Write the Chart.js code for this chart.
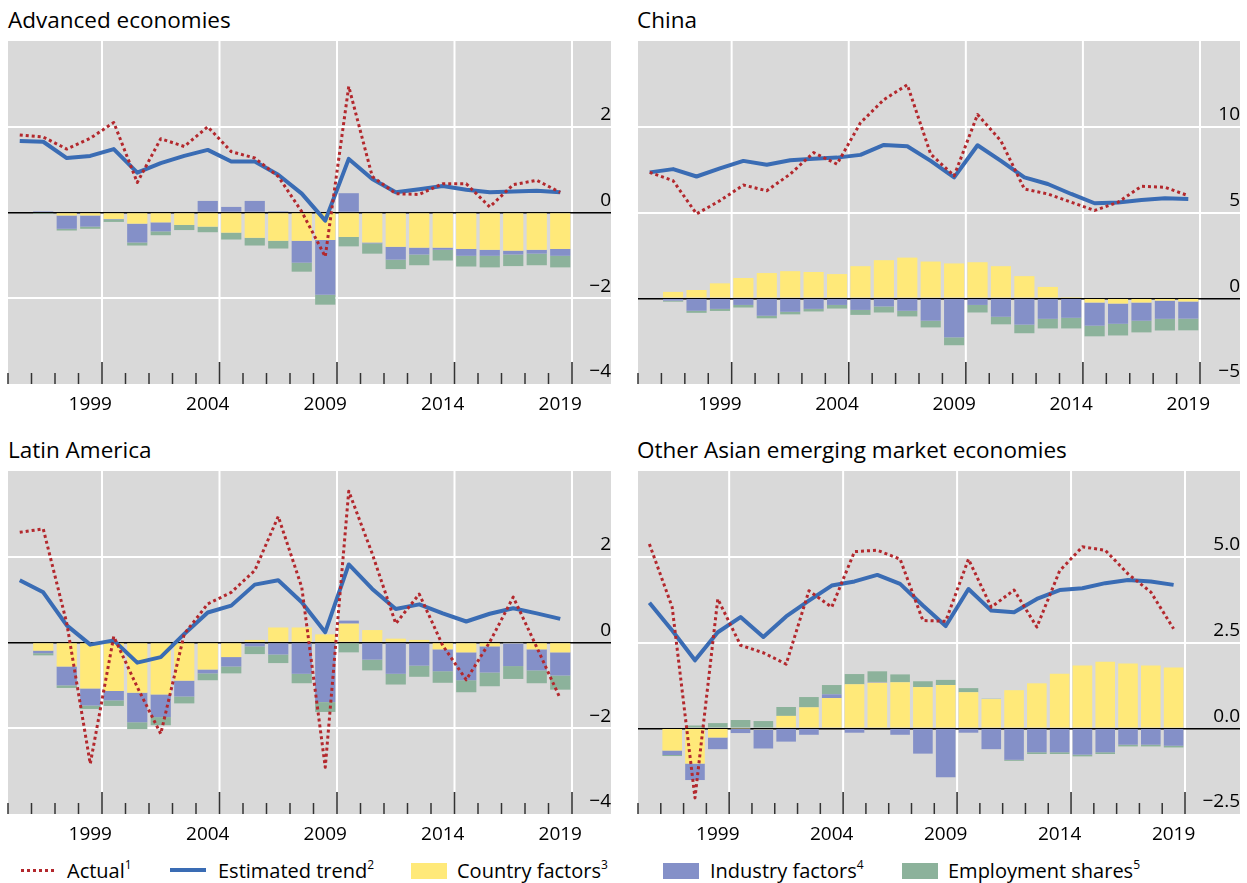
<!DOCTYPE html>
<html>
<head>
<meta charset="utf-8">
<script src="https://cdn.jsdelivr.net/npm/chart.js@4.4.1/dist/chart.umd.min.js"></script>
<style>
    body { margin: 0; background: #fff; width: 1247px; height: 883px; position: relative; overflow: hidden;
           font-family: "Open Sans", sans-serif; color: #000; }
    canvas { position: absolute; }
    .title { position: absolute; font-size: 22.5px; white-space: nowrap; }
    .legend-item { position: absolute; font-size: 20px; white-space: nowrap; top: 857px; }
    .legend-item sup { font-size: 12px; vertical-align: 9px; line-height: 0; }
    .swatch { position: absolute; }
</style>
</head>
<body>
<div class="title" style="left:8px; top:4px;">Advanced economies</div>
<div class="title" style="left:637px; top:4px;">China</div>
<div class="title" style="left:8px; top:434px;">Latin America</div>
<div class="title" style="left:637px; top:434px;">Other Asian emerging market economies</div>

<canvas id="adv" width="604" height="377" style="left:7px; top:41px;"></canvas>
<canvas id="chn" width="603" height="377" style="left:637px; top:41px;"></canvas>
<canvas id="lat" width="604" height="377" style="left:7px; top:471px;"></canvas>
<canvas id="asia" width="603" height="377" style="left:637px; top:471px;"></canvas>

<!-- legend -->
<div class="swatch" style="left:21px; top:869px; width:35px; height:3px; background:repeating-linear-gradient(to right,#b3282d 0 3px,transparent 3px 6px);"></div>
<div class="legend-item" style="left:67px;">Actual<sup>1</sup></div>
<div class="swatch" style="left:170px; top:868px; width:36px; height:4px; background:#3a6cb4;"></div>
<div class="legend-item" style="left:218px;">Estimated trend<sup>2</sup></div>
<div class="swatch" style="left:411px; top:863px; width:36px; height:16px; background:#ffe979;"></div>
<div class="legend-item" style="left:457px;">Country factors<sup>3</sup></div>
<div class="swatch" style="left:663px; top:863px; width:36px; height:16px; background:#8490c8;"></div>
<div class="legend-item" style="left:710px;">Industry factors<sup>4</sup></div>
<div class="swatch" style="left:902px; top:863px; width:36px; height:16px; background:#8cb29b;"></div>
<div class="legend-item" style="left:948px;">Employment shares<sup>5</sup></div>

<script>
// Categories
const years = ["1996", "1997", "1998", "1999", "2000", "2001", "2002", "2003", "2004", "2005", "2006", "2007",
               "2008", "2009", "2010", "2011", "2012", "2013", "2014", "2015", "2016", "2017", "2018", "2019"];

// Advanced economies
const advActual = [1.81, 1.76, 1.48, 1.73, 2.10, 0.70, 1.72, 1.54, 2.00, 1.42, 1.27, 0.84, 0.02, -1.03, 2.94, 0.84, 0.44, 0.42, 0.67, 0.67, 0.13, 0.65, 0.75, 0.47];
const advTrend = [1.67, 1.65, 1.27, 1.32, 1.48, 0.93, 1.15, 1.32, 1.46, 1.19, 1.19, 0.88, 0.44, -0.19, 1.25, 0.78, 0.47, 0.54, 0.62, 0.53, 0.47, 0.49, 0.51, 0.47];
const advCountry = [null, 0, -0.07, -0.07, -0.15, -0.26, -0.23, -0.29, -0.33, -0.47, -0.59, -0.66, -0.66, -0.64, -0.57, -0.70, -0.80, -0.82, -0.82, -0.85, -0.87, -0.89, -0.87, -0.85];
const advIndustry = [null, 0.03, -0.31, -0.26, -0.01, -0.44, -0.21, 0, 0.27, 0.13, 0.27, 0.03, -0.51, -1.28, 0.45, -0.02, -0.30, -0.16, -0.05, -0.16, -0.14, -0.09, -0.09, -0.16];
const advEmployment = [null, -0.03, -0.04, -0.05, -0.06, -0.07, -0.09, -0.12, -0.13, -0.16, -0.18, -0.18, -0.21, -0.23, -0.22, -0.24, -0.22, -0.25, -0.25, -0.25, -0.27, -0.27, -0.27, -0.27];

// China
const chnActual = [7.34, 6.85, 4.92, 5.69, 6.60, 6.27, 7.24, 8.49, 7.82, 10.23, 11.58, 12.45, 8.40, 7.14, 10.71, 9.17, 6.37, 6.08, 5.60, 5.12, 5.60, 6.53, 6.47, 5.98];
const chnTrend = [7.34, 7.53, 7.10, 7.57, 8.01, 7.78, 8.05, 8.13, 8.20, 8.36, 8.94, 8.86, 8.01, 7.05, 8.92, 8.01, 7.05, 6.66, 6.08, 5.54, 5.58, 5.73, 5.83, 5.79];
const chnCountry = [null, 0.37, 0.48, 0.87, 1.18, 1.47, 1.58, 1.53, 1.41, 1.87, 2.22, 2.37, 2.14, 2.03, 2.10, 1.87, 1.29, 0.66, 0.02, -0.25, -0.31, -0.25, -0.14, -0.19];
const chnIndustry = [null, -0.14, -0.73, -0.62, -0.39, -1.02, -0.79, -0.62, -0.39, -0.68, -0.48, -0.73, -1.31, -2.28, -0.39, -1.08, -1.54, -1.20, -1.14, -1.35, -1.18, -1.06, -1.06, -1.00];
const chnEmployment = [null, -0.06, -0.12, -0.12, -0.15, -0.15, -0.15, -0.15, -0.21, -0.29, -0.35, -0.33, -0.39, -0.46, -0.44, -0.44, -0.50, -0.56, -0.62, -0.62, -0.68, -0.68, -0.68, -0.68];

// Latin America
const latActual = [2.57, 2.65, 0.45, -2.83, 0.14, -1.04, -2.13, 0.20, 0.90, 1.17, 1.68, 2.94, 1.29, -2.91, 3.53, 2.07, 0.44, 1.13, -0.07, -0.87, 0.01, 1.06, -0.11, -1.31];
const latTrend = [1.45, 1.17, 0.40, -0.05, 0.05, -0.47, -0.34, 0.20, 0.70, 0.86, 1.35, 1.45, 0.94, 0.24, 1.82, 1.25, 0.78, 0.89, 0.68, 0.49, 0.67, 0.80, 0.68, 0.55];
const latCountry = [null, -0.19, -0.56, -1.07, -1.13, -1.17, -1.21, -0.89, -0.63, -0.34, 0.06, 0.35, 0.35, 0.19, 0.44, 0.29, 0.09, 0.06, -0.16, -0.23, -0.09, -0.01, -0.16, -0.23];
const latIndustry = [null, -0.06, -0.44, -0.40, -0.22, -0.69, -0.53, -0.37, -0.09, -0.22, -0.09, -0.28, -0.73, -1.39, 0.07, -0.40, -0.73, -0.54, -0.51, -0.65, -0.61, -0.54, -0.49, -0.54];
const latEmployment = [null, -0.05, -0.06, -0.08, -0.13, -0.16, -0.19, -0.16, -0.16, -0.16, -0.18, -0.20, -0.22, -0.23, -0.23, -0.25, -0.25, -0.26, -0.27, -0.28, -0.32, -0.30, -0.30, -0.33];

// Other Asian emerging market economies
const asiaActual = [5.37, 3.53, -2.03, 3.77, 2.42, 2.20, 1.87, 4.01, 3.53, 5.15, 5.19, 4.93, 3.14, 3.12, 4.93, 3.53, 4.03, 2.95, 4.59, 5.29, 5.19, 4.50, 3.97, 2.90];
const asiaTrend = [3.66, 2.85, 1.98, 2.80, 3.24, 2.66, 3.26, 3.72, 4.16, 4.28, 4.47, 4.21, 3.58, 2.98, 4.06, 3.43, 3.38, 3.77, 4.03, 4.08, 4.23, 4.32, 4.28, 4.18];
const asiaCountry = [null, -0.65, -1.03, -0.27, -0.01, -0.03, 0.36, 0.61, 0.88, 1.28, 1.33, 1.34, 1.20, 1.26, 1.05, 0.85, 1.11, 1.31, 1.59, 1.83, 1.94, 1.89, 1.83, 1.77];
const asiaIndustry = [null, -0.13, -0.48, -0.34, -0.13, -0.56, -0.39, -0.19, 0.11, -0.13, 0.02, -0.19, -0.74, -1.43, -0.13, -0.61, -0.92, -0.70, -0.70, -0.77, -0.70, -0.48, -0.48, -0.51];
const asiaEmployment = [null, -0.03, 0.08, 0.15, 0.24, 0.21, 0.26, 0.30, 0.27, 0.30, 0.31, 0.23, 0.17, 0.15, 0.12, 0.01, -0.03, -0.05, -0.05, -0.05, -0.05, -0.05, -0.05, -0.05];

// Colours
const RED = "#b3282d";
const BLUE_LINE = "#3a6cb4";
const YELLOW = "#ffe979";
const BLUE_BAR = "#8490c8";
const GREEN = "#8cb29b";
const PANEL_BG = "#d9d9d9";

// Grey plot background, 5-year gridlines and the small year ticks at the bottom
const panelDecor = {
    id: "panelDecor",
    beforeDraw(chart) {
        const { ctx, chartArea } = chart;
        const x = chart.scales.x;
        ctx.save();
        ctx.fillStyle = PANEL_BG;
        ctx.fillRect(chartArea.left, chartArea.top, chart.width - chartArea.left, chartArea.bottom - chartArea.top);

        const half = (x.getPixelForValue(1) - x.getPixelForValue(0)) / 2;
        ctx.strokeStyle = "#fff";
        ctx.lineWidth = 2;
        for (let i = 4; i <= years.length; i += 5) {
            const px = x.getPixelForValue(i - 1) + half;
            ctx.beginPath();
            ctx.moveTo(px, chartArea.top);
            ctx.lineTo(px, chartArea.bottom - 22);
            ctx.stroke();
        }
        ctx.restore();
    },
    beforeDatasetsDraw(chart) {
        const { ctx, chartArea } = chart;
        const x = chart.scales.x;
        const half = (x.getPixelForValue(1) - x.getPixelForValue(0)) / 2;
        ctx.save();
        ctx.strokeStyle = "#333";
        ctx.lineWidth = 1.5;
        for (let i = 0; i <= years.length; i++) {
            const px = i < years.length ? x.getPixelForValue(i) - half : x.getPixelForValue(i - 1) + half;
            const len = i % 5 === 4 ? 22 : 11;
            ctx.beginPath();
            ctx.moveTo(px, chartArea.bottom - len);
            ctx.lineTo(px, chartArea.bottom);
            ctx.stroke();
        }
        ctx.restore();
    },
};

function formatTick(value, decimals) {
    const txt = Math.abs(value).toFixed(decimals);
    return value < 0 ? "\u2212" + txt : txt;
}

function buildPanel(canvasId, actual, trend, country, industry, employment, yMin, yMax, yStep, decimals, axisWidth) {
    const ctx = document.getElementById(canvasId).getContext("2d");
    return new Chart(ctx, {
        type: "bar",
        data: {
            labels: years,
            datasets: [
                { type: "line", label: "Actual", data: actual, borderColor: RED, borderWidth: 3,
                  borderDash: [3, 3], borderJoinStyle: "round", pointRadius: 0, tension: 0, stack: "actual", order: 0 },
                { type: "line", label: "Estimated trend", data: trend, borderColor: BLUE_LINE, borderWidth: 4,
                  borderJoinStyle: "round", pointRadius: 0, tension: 0, stack: "trend", order: 1 },
                { label: "Country factors", data: country, backgroundColor: YELLOW, stack: "f", order: 2 },
                { label: "Industry factors", data: industry, backgroundColor: BLUE_BAR, stack: "f", order: 2 },
                { label: "Employment shares", data: employment, backgroundColor: GREEN, stack: "f", order: 2 },
            ],
        },
        options: {
            responsive: false,
            animation: false,
            devicePixelRatio: 1,
            layout: { padding: { left: 1, right: 0, top: 0, bottom: 0 } },
            datasets: {
                bar: { barPercentage: 0.86, categoryPercentage: 1, borderWidth: 0 },
            },
            scales: {
                x: {
                    stacked: true,
                    offset: true,
                    grid: { display: false },
                    border: { display: false },
                    afterFit: (scale) => { scale.height = 34; },
                    ticks: {
                        autoSkip: false,
                        maxRotation: 0,
                        padding: 1,
                        color: "#000",
                        font: { family: "Open Sans", size: 19 },
                        callback: (value, index) => (index % 5 === 3 ? years[index] : ""),
                    },
                },
                y: {
                    position: "right",
                    stacked: true,
                    min: yMin,
                    max: yMax,
                    border: { display: false },
                    afterFit: (scale) => { scale.width = axisWidth; },
                    grid: {
                        drawTicks: true,
                        tickLength: 60,
                        color: (c) => {
                            const v = c.tick ? c.tick.value : null;
                            if (v === 0) return "#000";
                            if (v === yMin || v === yMax) return "rgba(0,0,0,0)";
                            return "#fff";
                        },
                        lineWidth: (c) => (c.tick && c.tick.value === 0 ? 1.5 : 2),
                    },
                    ticks: {
                        stepSize: yStep,
                        padding: -46,
                        labelOffset: -12,
                        crossAlign: "far",
                        color: "#000",
                        font: { family: "Open Sans", size: 19 },
                        callback: (value) => (value === yMax ? "" : formatTick(value, decimals)),
                    },
                },
            },
            plugins: {
                legend: { display: false },
                tooltip: { enabled: false },
            },
        },
        plugins: [panelDecor],
    });
}

buildPanel("adv", advActual, advTrend, advCountry, advIndustry, advEmployment, -4, 4, 2, 0, 39);
buildPanel("chn", chnActual, chnTrend, chnCountry, chnIndustry, chnEmployment, -5, 15, 5, 0, 40);
buildPanel("lat", latActual, latTrend, latCountry, latIndustry, latEmployment, -4, 4, 2, 0, 39);
buildPanel("asia", asiaActual, asiaTrend, asiaCountry, asiaIndustry, asiaEmployment, -2.5, 7.5, 2.5, 1, 55);
</script>
</body>
</html>
